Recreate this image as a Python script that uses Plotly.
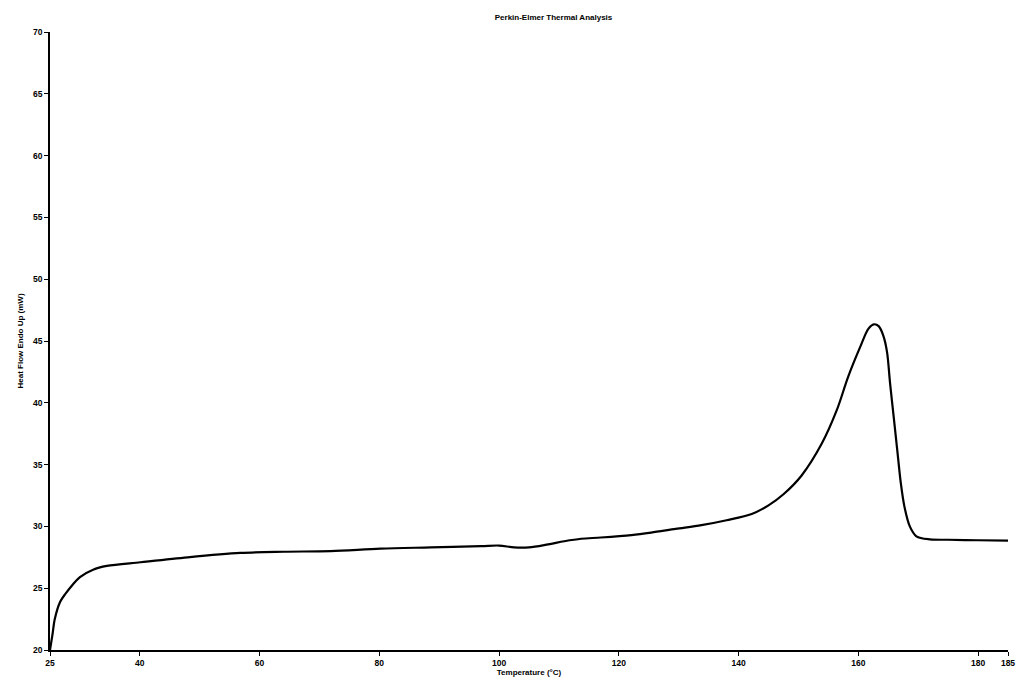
import plotly.graph_objects as go

temperature = [25, 25.4, 25.8, 26.7, 27.5, 30.0, 32.2, 34.5, 40.1, 48.0, 56.8, 64.0, 71.9, 80.2,
               88.6, 97.0, 100.0, 102.5, 105.0, 108.2, 110.9, 113.7, 117.0, 122.1, 125.4,
               129.5, 133.8, 138.0, 142.2, 145.0, 147.5, 150.5, 153.9, 156.4, 158.3,
               160.3, 161.7, 162.6, 163.4, 164.2, 164.8, 165.3, 165.9, 166.5, 167.1,
               167.7, 168.6, 169.7, 172.0, 175.0, 180.0, 185.0]
heat_flow = [20.0, 21.2, 22.5, 23.9, 24.5, 25.9, 26.5, 26.8, 27.1, 27.5, 27.85, 27.95, 28.0, 28.2,
             28.3, 28.4, 28.45, 28.3, 28.3, 28.55, 28.8, 29.0, 29.1, 29.3, 29.5,
             29.8, 30.1, 30.5, 31.0, 31.7, 32.6, 34.1, 36.7, 39.4, 42.1,
             44.5, 46.0, 46.35, 46.2, 45.4, 44.1, 41.6, 38.9, 36.2, 33.5,
             31.6, 30.0, 29.2, 28.95, 28.92, 28.88, 28.85]

x_ticks = [25, 40, 60, 80, 100, 120, 140, 160, 180, 185]
y_ticks = [20, 25, 30, 35, 40, 45, 50, 55, 60, 65, 70]

FONT = "Liberation Sans, Arial, sans-serif"

fig = go.Figure()
fig.add_trace(go.Scatter(x=temperature, y=heat_flow, mode="lines",
                         line=dict(color="black", width=2.2, shape="spline", smoothing=0.9),
                         showlegend=False, hoverinfo="skip"))

tickfont = dict(family=FONT, size=8.5, color="black", weight="bold")
fig.update_layout(
    width=1025, height=686,
    margin=dict(l=50, r=10, t=32, b=35),
    paper_bgcolor="white", plot_bgcolor="white",
    title=dict(text="Perkin-Elmer Thermal Analysis", x=0.54, xanchor="center", y=0.975, yanchor="middle",
               font=dict(family=FONT, size=8, color="black", weight="bold")),
    xaxis=dict(range=[25, 185], tickvals=x_ticks, ticktext=[str(v) for v in x_ticks],
               showgrid=False, zeroline=False, showline=True, linecolor="black", linewidth=1.5,
               ticks="outside", ticklen=4, tickcolor="black", tickfont=tickfont,
               title=dict(text="Temperature (°C)", standoff=2,
                          font=dict(family=FONT, size=8, color="black", weight="bold"))),
    yaxis=dict(range=[20, 70], tickvals=y_ticks, ticktext=[str(v) for v in y_ticks],
               showgrid=False, zeroline=False, showline=True, linecolor="black", linewidth=1.5,
               ticks="outside", ticklen=4, tickcolor="black", tickfont=tickfont,
               title=dict(text="Heat Flow Endo Up (mW)", standoff=8,
                          font=dict(family=FONT, size=8, color="black", weight="bold"))),
)

fig.write_html("out.html")
